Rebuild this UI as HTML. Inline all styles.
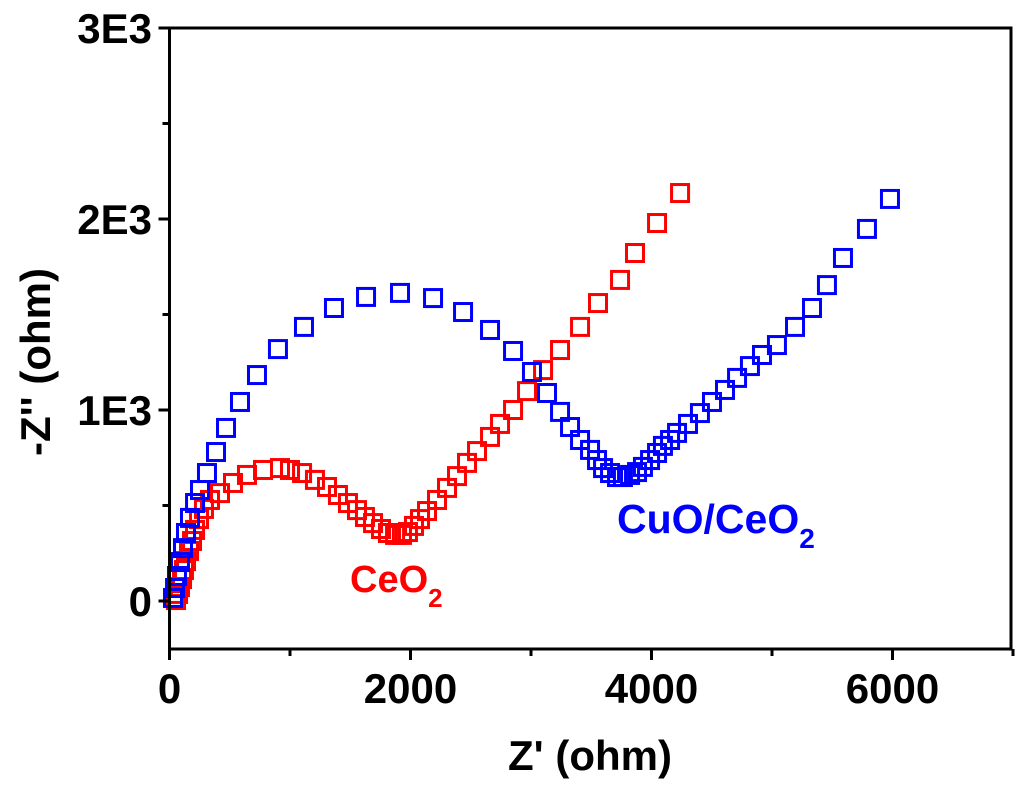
<!DOCTYPE html>
<html>
<head>
<meta charset="utf-8">
<style>
  html,body{margin:0;padding:0;background:#fff;}
  svg{display:block;}
  text{font-family:"Liberation Sans",Arial,sans-serif;font-weight:bold;}
</style>
</head>
<body>
<svg id="chart" width="1024" height="786" viewBox="0 0 1024 786" xmlns="http://www.w3.org/2000/svg">
  <g id="marks"></g>
  <g id="axes"></g>
  <text x="590" y="770" font-size="42" text-anchor="middle" fill="#000">Z' (ohm)</text>
  <text transform="translate(50,362) rotate(-90)" font-size="42" text-anchor="middle" fill="#000">-Z'' (ohm)</text>
  <text x="350" y="592" font-size="38" fill="#ff0000">CeO<tspan font-size="26" dy="15">2</tspan></text>
  <text x="617" y="533" font-size="41" fill="#0000ff">CuO/CeO<tspan font-size="28" dy="15">2</tspan></text>
</svg>
<script>
const xTicks = [0, 2000, 4000, 6000];
const xTickLabels = ["0", "2000", "4000", "6000"];
const xMinorTicks = [1000, 3000, 5000, 7000];
const yTicks = [0, 1000, 2000, 3000];
const yTickLabels = ["0", "1E3", "2E3", "3E3"];
const yMinorTicks = [500, 1500, 2500];

const ceo2X = [54,71,87,104,120,137,162,187,212,245,286,336,419,527,643,776,917,1000,1100,1207,1307,1398,1481,1556,1622,1689,1755,1813,1872,1929,1979,2029,2079,2137,2220,2303,2386,2469,2552,2660,2743,2851,2967,3100,3241,3407,3556,3739,3863,4046,4237];
const ceo2Y = [5,37,73,115,162,209,262,314,372,429,482,529,565,618,660,686,696,686,670,634,597,555,513,476,440,408,377,356,346,346,361,393,429,471,529,592,654,723,785,859,927,1000,1099,1209,1314,1435,1560,1681,1822,1979,2136];

const cuoX = [29,46,62,87,112,137,170,212,253,311,386,469,585,726,900,1116,1365,1631,1913,2187,2436,2660,2851,3008,3133,3241,3324,3407,3490,3548,3598,3656,3714,3763,3822,3880,3929,3988,4046,4095,4154,4212,4303,4402,4502,4610,4710,4817,4917,5041,5191,5332,5456,5589,5788,5979];
const cuoY = [16,68,131,204,277,356,435,513,581,670,780,906,1042,1183,1319,1435,1534,1592,1613,1586,1513,1419,1309,1199,1089,990,911,843,791,738,696,670,649,649,660,675,702,738,775,812,843,880,927,984,1042,1105,1168,1230,1288,1340,1435,1534,1654,1796,1948,2105];

const X0 = 169.5, XPX = 0.1205;   // px per ohm
const Y0 = 601, YPX = 0.191;
const PL = 169.5, PR = 1011, PT = 28, PB = 649;
function sx(v){ return X0 + v * XPX; }
function sy(v){ return Y0 - v * YPX; }

const NS = "http://www.w3.org/2000/svg";
function mk(tag, attrs){ const e = document.createElementNS(NS, tag); for (const k in attrs) e.setAttribute(k, attrs[k]); return e; }

const marks = document.getElementById('marks');
function drawSeries(xs, ys, color, name){
  const g = mk('g', {});
  
  
  for (let i = 0; i < xs.length; i++){
    const r = mk('rect', {x: sx(xs[i]) - 8.5, y: sy(ys[i]) - 8.5, width: 17, height: 17, fill: 'none', stroke: color, 'stroke-width': 3});
    
    
    g.appendChild(r);
  }
  marks.appendChild(g);
}
drawSeries(ceo2X, ceo2Y, '#ff0000', 'ceo2');
drawSeries(cuoX, cuoY, '#0000ff', 'cuo-ceo2');

const axes = document.getElementById('axes');
const frame = mk('rect', {x: PL, y: PT, width: PR - PL, height: PB - PT, fill: 'none', stroke: '#000', 'stroke-width': 3});


axes.appendChild(frame);

xTicks.forEach((v, i) => {
  const t = mk('line', {x1: sx(v), x2: sx(v), y1: PB, y2: PB + 11, stroke: '#000', 'stroke-width': 3});
  
  
  axes.appendChild(t);
  const l = mk('text', {x: sx(v), y: 703, 'font-size': 42, 'text-anchor': 'middle', fill: '#000'});
  l.textContent = xTickLabels[i];
  
  
  axes.appendChild(l);
});
xMinorTicks.forEach(v => {
  const t = mk('line', {x1: sx(v), x2: sx(v), y1: PB, y2: PB + 7, stroke: '#000', 'stroke-width': 3});
  
  
  axes.appendChild(t);
});
yTicks.forEach((v, i) => {
  const t = mk('line', {x1: PL - 11, x2: PL, y1: sy(v), y2: sy(v), stroke: '#000', 'stroke-width': 3});
  
  
  axes.appendChild(t);
  const l = mk('text', {x: 152, y: sy(v) + 15, 'font-size': 42, 'text-anchor': 'end', fill: '#000'});
  l.textContent = yTickLabels[i];
  
  
  axes.appendChild(l);
});
yMinorTicks.forEach(v => {
  const t = mk('line', {x1: PL - 7, x2: PL, y1: sy(v), y2: sy(v), stroke: '#000', 'stroke-width': 3});
  
  
  axes.appendChild(t);
});
</script>
</body>
</html>
